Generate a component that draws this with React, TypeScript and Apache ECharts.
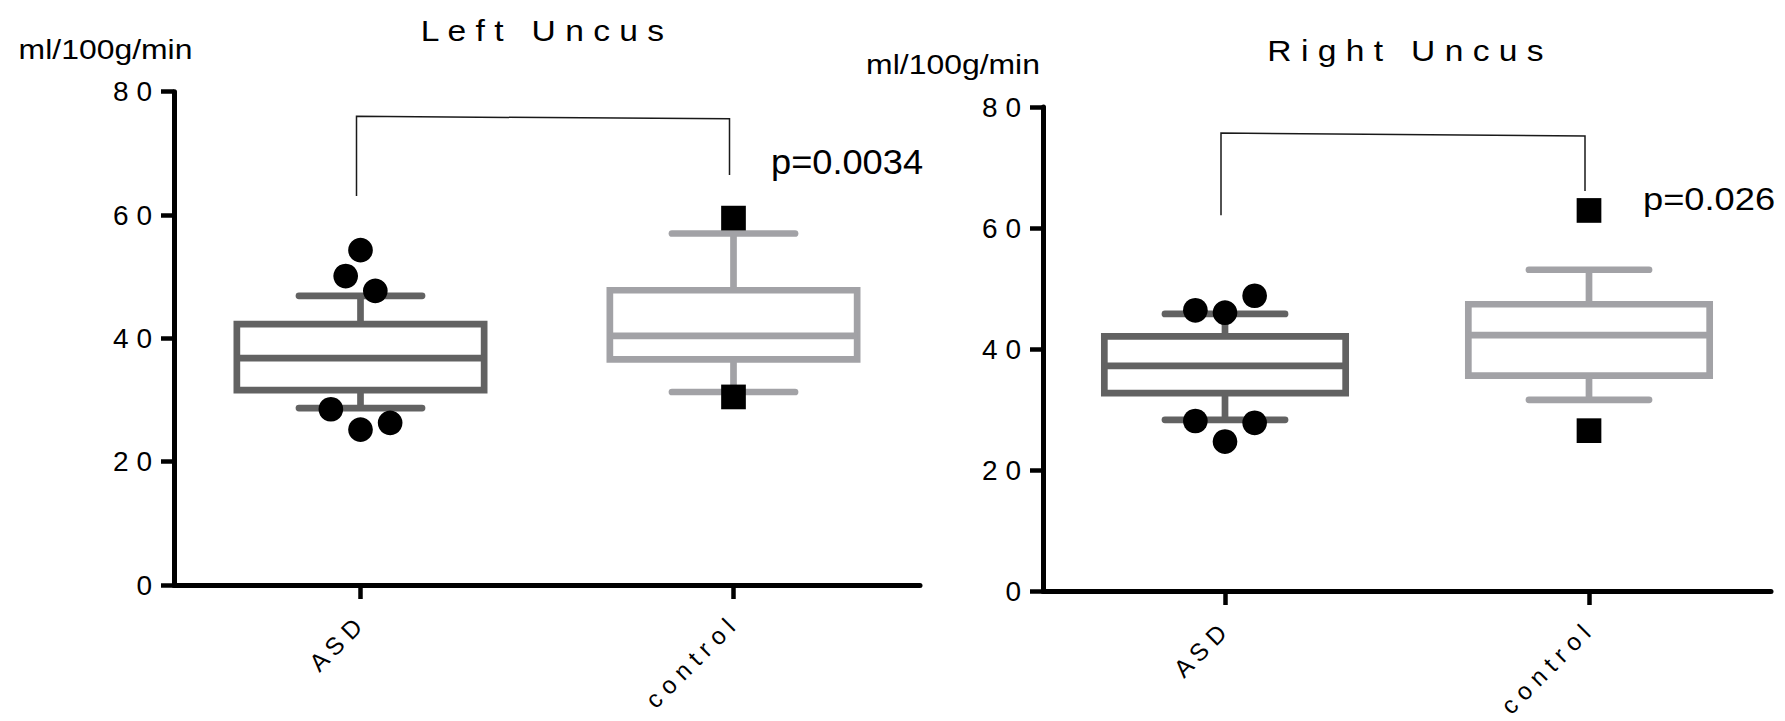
import React, { useEffect, useRef } from "react";
import * as echarts from "echarts";

const categories = ["ASD", "control"];
const yMin = 0;
const yMax = 80;
const yInterval = 20;

// box stats: [low whisker, Q1, median, Q3, high whisker]
const leftASDBox = [28.7, 31.6, 36.8, 42.3, 46.9];
const leftControlBox = [31.3, 36.6, 40.4, 47.8, 57.0];
const rightASDBox = [28.3, 32.7, 37.2, 42.1, 45.8];
const rightControlBox = [31.6, 35.6, 42.3, 47.4, 53.1];

// outlier values and their beeswarm offsets (in symbol widths)
const leftASDOutliers = [54.3, 50.1, 47.7, 28.5, 25.2, 26.3];
const leftASDJitter = [0, -0.6, 0.6, -1.2, 0, 1.2];
const leftControlOutliers = [59.5, 30.5];
const rightASDOutliers = [46.4, 46.0, 48.8, 28.1, 27.8, 24.7];
const rightASDJitter = [-1.2, 0, 1.2, -1.2, 1.2, 0];
const rightControlOutliers = [62.9, 26.5];

// significance bracket: [ASD bottom, ASD top, control top, control bottom]
const leftBracket = [63.1, 76.0, 75.6, 66.5];
const rightBracket = [62.1, 75.7, 75.2, 66.1];

const titles = ["Left Uncus", "Right Uncus"];
const pValues = ["p=0.0034", "p=0.026"];
const unitLabel = "ml/100g/min";

const boxColors = ["#626262", "#a2a2a6"];
const FONT = "Liberation Sans";
const SYM = 24.7;

const spaced = (s: string) =>
  s
    .split(" ")
    .map((w) => w.split("").join(" "))
    .join(" \u00a0 ");

function boxSeries(gridIndex: number, boxes: number[][]) {
  return {
    type: "custom",
    xAxisIndex: gridIndex,
    yAxisIndex: gridIndex,
    data: boxes.map((b, i) => [i, ...b]),
    renderItem: (params: any, api: any) => {
      const ci = api.value(0);
      const x = api.coord([ci, 0])[0];
      const band = api.size([1, 0])[0];
      const bw = band * 0.663;
      const cw = band * 0.33;
      const yv = (k: number) => api.coord([ci, api.value(k)])[1];
      const yLow = yv(1), yQ1 = yv(2), yMed = yv(3), yQ3 = yv(4), yHigh = yv(5);
      const color = boxColors[ci];
      const lw = 6.7;
      const ls = { stroke: color, lineWidth: lw };
      const lsr = { stroke: color, lineWidth: lw, lineCap: "round" };
      return {
        type: "group",
        children: [
          { type: "line", shape: { x1: x, y1: yQ3, x2: x, y2: yHigh }, style: ls },
          { type: "line", shape: { x1: x, y1: yQ1, x2: x, y2: yLow }, style: ls },
          { type: "line", shape: { x1: x - cw / 2, y1: yHigh, x2: x + cw / 2, y2: yHigh }, style: lsr },
          { type: "line", shape: { x1: x - cw / 2, y1: yLow, x2: x + cw / 2, y2: yLow }, style: lsr },
          {
            type: "rect",
            shape: { x: x - bw / 2, y: yQ3, width: bw, height: yQ1 - yQ3 },
            style: { fill: "#ffffff", stroke: color, lineWidth: lw },
          },
          { type: "line", shape: { x1: x - bw / 2, y1: yMed, x2: x + bw / 2, y2: yMed }, style: ls },
        ],
      };
    },
    z: 2,
  };
}

function pointSeries(gridIndex: number, ci: number, values: number[], jitter: number[] | null, shape: "circle" | "square") {
  return {
    type: "custom",
    xAxisIndex: gridIndex,
    yAxisIndex: gridIndex,
    data: values.map((v, i) => [ci, v, jitter ? jitter[i] : 0]),
    renderItem: (params: any, api: any) => {
      const p = api.coord([api.value(0), api.value(1)]);
      const x = p[0] + api.value(2) * SYM;
      const y = p[1];
      if (shape === "circle") {
        return { type: "circle", shape: { cx: x, cy: y, r: SYM / 2 }, style: { fill: "#000" } };
      }
      return { type: "rect", shape: { x: x - SYM / 2, y: y - SYM / 2, width: SYM, height: SYM }, style: { fill: "#000" } };
    },
    z: 3,
  };
}

function bracketSeries(gridIndex: number, b: number[]) {
  return {
    type: "custom",
    xAxisIndex: gridIndex,
    yAxisIndex: gridIndex,
    data: [[0, b[0]]],
    renderItem: (params: any, api: any) => {
      const dx = -4;
      const pts = [
        api.coord([0, b[0]]),
        api.coord([0, b[1]]),
        api.coord([1, b[2]]),
        api.coord([1, b[3]]),
      ].map((p: number[]) => [p[0] + dx, p[1]]);
      return {
        type: "polyline",
        shape: { points: pts },
        style: { stroke: "#1a1a1a", lineWidth: 1.5, fill: "none" },
      };
    },
    z: 1,
  };
}

function xAxis(gridIndex: number) {
  return {
    type: "category",
    gridIndex,
    data: categories,
    boundaryGap: true,
    axisLine: { show: true, lineStyle: { color: "#000", width: 5 } },
    axisTick: { show: true, interval: 0, alignWithLabel: true, length: 14, lineStyle: { color: "#000", width: 4.5 } },
    axisLabel: {
      show: true,
      interval: 0,
      rotate: 45,
      margin: 35,
      fontSize: 24.5,
      fontFamily: FONT,
      color: "#000",
      padding: [0, 4, 0, 0],
      formatter: (v: string) => v.split("").join(" "),
    },
    splitLine: { show: false },
  };
}

function yAxis(gridIndex: number) {
  return {
    type: "value",
    gridIndex,
    min: yMin,
    max: yMax,
    interval: yInterval,
    axisLine: { show: true, lineStyle: { color: "#000", width: 5 } },
    axisTick: { show: true, length: 13, lineStyle: { color: "#000", width: 4.5 } },
    axisLabel: {
      margin: 22,
      fontSize: 28,
      fontFamily: FONT,
      color: "#000",
      padding: [4, 0, 0, 0],
      formatter: (v: number) => String(v).split("").join(" "),
    },
    splitLine: { show: false },
  };
}

export default function App() {
  const ref = useRef<HTMLDivElement>(null);
  useEffect(() => {
    if (!ref.current) return;
    const chart = echarts.init(ref.current, undefined, { renderer: "svg" });
    const textStyle = (text: string, size: number, align: string) => ({
      text,
      fontSize: size,
      fontFamily: FONT,
      fill: "#000",
      align,
      verticalAlign: "middle",
    });
    chart.setOption({
      animation: false,
      backgroundColor: "#ffffff",
      grid: [
        { left: 174, top: 91.7, width: 746, height: 493.3, containLabel: false, outerBoundsMode: "none" },
        { left: 1043, top: 107, width: 728, height: 484, containLabel: false, outerBoundsMode: "none" },
      ],
      xAxis: [xAxis(0), xAxis(1)],
      yAxis: [yAxis(0), yAxis(1)],
      series: [
        bracketSeries(0, leftBracket),
        bracketSeries(1, rightBracket),
        boxSeries(0, [leftASDBox, leftControlBox]),
        boxSeries(1, [rightASDBox, rightControlBox]),
        pointSeries(0, 0, leftASDOutliers, leftASDJitter, "circle"),
        pointSeries(0, 1, leftControlOutliers, null, "square"),
        pointSeries(1, 0, rightASDOutliers, rightASDJitter, "circle"),
        pointSeries(1, 1, rightControlOutliers, null, "square"),
      ],
      graphic: [
        { type: "text", x: 542.5, y: 31, scaleX: 1.12, style: textStyle(spaced(titles[0]), 30, "center") },
        { type: "text", x: 1405.5, y: 50.6, scaleX: 1.12, style: textStyle(spaced(titles[1]), 30, "center") },
        { type: "text", x: 105.5, y: 49.5, scaleX: 1.12, style: textStyle(unitLabel, 28.5, "center") },
        { type: "text", x: 953, y: 64.4, scaleX: 1.12, style: textStyle(unitLabel, 28.5, "center") },
        { type: "text", x: 771, y: 161.5, scaleX: 1.05, style: textStyle(pValues[0], 34.5, "left") },
        { type: "text", x: 1643, y: 199, scaleX: 1.17, style: textStyle(pValues[1], 31, "left") },
      ],
    });
    return () => chart.dispose();
  }, []);
  return (
    <div
      ref={ref}
      style={{ position: "absolute", left: 0, top: 0, width: 1785, height: 721, background: "#fff" }}
    />
  );
}
